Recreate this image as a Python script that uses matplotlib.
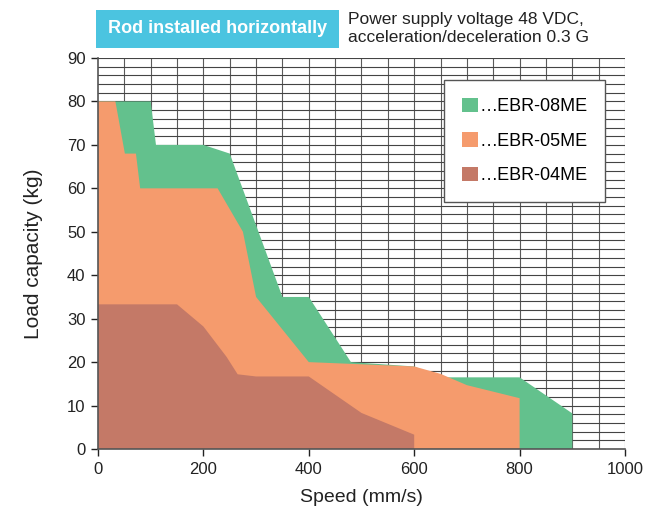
import matplotlib
matplotlib.use("Agg")
import matplotlib.pyplot as plt
from matplotlib.patches import Patch, Rectangle
import numpy as np

plt.rcParams["font.family"] = ["Liberation Sans", "DejaVu Sans"]

# ---------------------------------------------------------------------------
# Data (speed mm/s, load kg)
# ---------------------------------------------------------------------------
ebr08_speed = [0, 100, 110, 200, 250, 350, 400, 480, 600, 650, 800, 900, 900]
ebr08_load = [80, 80, 70, 70, 68, 35, 35, 20, 19, 16.5, 16.5, 8.2, 0]

ebr05_speed = [0, 33, 51, 72, 80, 227, 275, 300, 400, 600, 650, 700, 800, 800]
ebr05_load = [80, 80, 68, 68, 60, 60, 50, 35, 20, 19, 17.3, 14.7, 11.7, 0]

ebr04_speed = [0, 150, 200, 244, 265, 300, 400, 500, 600, 600]
ebr04_load = [33.3, 33.3, 28.2, 21.2, 17.2, 16.7, 16.7, 8.3, 3.3, 0]

series_names = ["…EBR-08ME", "…EBR-05ME", "…EBR-04ME"]
series_colors = ["#63c18d", "#f59b6d", "#c47967"]

x_ticks = [0, 200, 400, 600, 800, 1000]
y_ticks = list(range(0, 91, 10))

# ---------------------------------------------------------------------------
# Figure
# ---------------------------------------------------------------------------
fig = plt.figure(figsize=(6.49, 5.17), dpi=100)
ax = fig.add_axes([0.151, 0.1315, 0.812, 0.7563])

# fine grid: every 50 mm/s, every 2 kg
for gx in np.arange(50, 1001, 50):
    ax.axvline(gx, color="#5a5a5a", lw=0.8, zorder=0)
for gy in np.arange(2, 91, 2):
    ax.axhline(gy, color="#444444", lw=0.8, zorder=0)

data = [(ebr08_speed, ebr08_load), (ebr05_speed, ebr05_load),
        (ebr04_speed, ebr04_load)]
for (sx, sy), col in zip(data, series_colors):
    ax.fill(sx + [0], sy + [0], color=col, lw=0, zorder=2)

ax.set_xlim(0, 1000)
ax.set_ylim(0, 90)
ax.set_xticks(x_ticks)
ax.set_yticks(y_ticks)
ax.tick_params(labelsize=12, colors="#222222", length=5, width=1.0,
               direction="out", pad=4)
for side in ("top", "right"):
    ax.spines[side].set_visible(False)
for side in ("left", "bottom"):
    ax.spines[side].set_color("#555555")
    ax.spines[side].set_linewidth(1.2)
    ax.spines[side].set_zorder(3)

ax.set_xlabel("Speed (mm/s)", fontsize=14, color="#222222", labelpad=9)
ax.set_ylabel("Load capacity (kg)", fontsize=15, color="#222222", labelpad=17)

handles = [Patch(facecolor=c, edgecolor="none") for c in series_colors]
leg = ax.legend(handles, series_names, loc="upper right",
                bbox_to_anchor=(0.963, 0.945), fontsize=13,
                frameon=True, fancybox=False, framealpha=1,
                edgecolor="#555555", handlelength=0.85, handleheight=0.85,
                handletextpad=0.1, labelspacing=0.95, borderpad=1.0,
                borderaxespad=0)
leg.get_frame().set_linewidth(1.0)
leg.set_zorder(5)

# header
fig.patches.append(Rectangle((0.148, 0.907), 0.3744, 0.0735,
                             transform=fig.transFigure, facecolor="#4bc4e0",
                             edgecolor="none"))
fig.text(0.3351, 0.944, "Rod installed horizontally", ha="center",
         va="center", fontsize=13, fontweight="bold", color="white")
fig.text(0.536, 0.944, "Power supply voltage 48 VDC,\nacceleration/deceleration 0.3 G",
         ha="left", va="center", fontsize=12.5, color="#222222",
         linespacing=1.25)

fig.savefig("out.png", dpi=100)
